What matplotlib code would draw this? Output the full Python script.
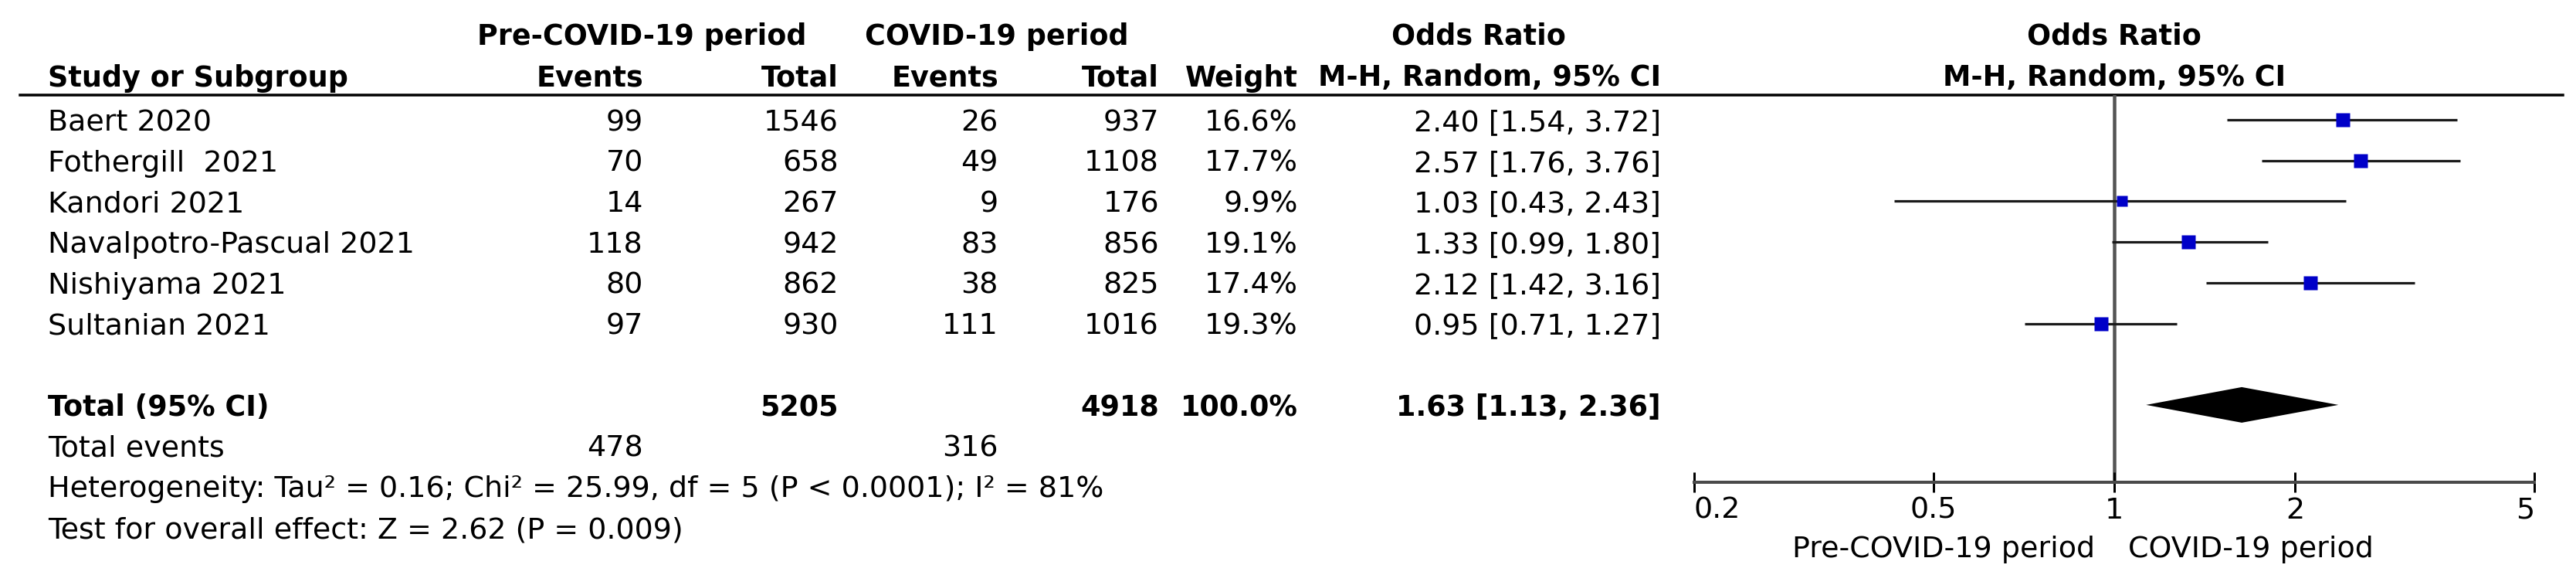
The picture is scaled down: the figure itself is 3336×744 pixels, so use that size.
import numpy as np
import matplotlib
matplotlib.use("Agg")
import matplotlib.pyplot as plt
import matplotlib.transforms as mtransforms

# ---------------- data ----------------
studies = ["Baert 2020", "Fothergill  2021", "Kandori 2021",
           "Navalpotro-Pascual 2021", "Nishiyama 2021", "Sultanian 2021"]
pre_events = [99, 70, 14, 118, 80, 97]
pre_total = [1546, 658, 267, 942, 862, 930]
covid_events = [26, 49, 9, 83, 38, 111]
covid_total = [937, 1108, 176, 856, 825, 1016]
weights = [16.6, 17.7, 9.9, 19.1, 17.4, 19.3]
or_est = [2.40, 2.57, 1.03, 1.33, 2.12, 0.95]
ci_low = [1.54, 1.76, 0.43, 0.99, 1.42, 0.71]
ci_high = [3.72, 3.76, 2.43, 1.80, 3.16, 1.27]

total_pre_events = 478
total_covid_events = 316
total_pre_n = 5205
total_covid_n = 4918
total_weight = 100.0
pooled_or = 1.63
pooled_low = 1.13
pooled_high = 2.36

heterogeneity_text = "Heterogeneity: Tau² = 0.16; Chi² = 25.99, df = 5 (P < 0.0001); I² = 81%"
overall_text = "Test for overall effect: Z = 2.62 (P = 0.009)"

x_ticks = [0.2, 0.5, 1, 2, 5]
x_tick_labels = ["0.2", "0.5", "1", "2", "5"]
left_label = "Pre-COVID-19 period"
right_label = "COVID-19 period"

# ---------------- layout ----------------
W, H, DPI = 3336, 744, 100
PT = 72.0 / DPI                      # points per pixel
ROW_PX, ROW0_PX = 52.7, 155.0


def prow(px):
    return (px - ROW0_PX) / ROW_PX


plt.rcParams["font.family"] = ["DejaVu Sans"]
FS = 27.4
FSB = 26.3

fig = plt.figure(figsize=(W / DPI, H / DPI), dpi=DPI)
fig.patch.set_facecolor("white")

ax_t = fig.add_axes([0, 0, 1, 1])
ax_t.set_xlim(0, W)
ax_t.set_ylim(prow(H), prow(0))
ax_t.axis("off")

# column positions (pixels)
X_STUDY = 62
X_PRE_EV, X_PRE_TOT = 833, 1086
X_COV_EV, X_COV_TOT = 1293, 1501
X_WT, X_OR = 1681, 2151

Y_H1, Y_H2, Y_LINE = prow(43), prow(97), prow(123)

va = "center_baseline"

# headers
ax_t.text(831, Y_H1, "Pre-COVID-19 period", ha="center", va=va, fontsize=FSB, fontweight="bold")
ax_t.text(1291, Y_H1, "COVID-19 period", ha="center", va=va, fontsize=FSB, fontweight="bold")
ax_t.text(1915, Y_H1, "Odds Ratio", ha="center", va=va, fontsize=FSB, fontweight="bold")
ax_t.text(X_STUDY, Y_H2, "Study or Subgroup", ha="left", va=va, fontsize=FSB, fontweight="bold")
for x, s in [(X_PRE_EV, "Events"), (X_PRE_TOT, "Total"), (X_COV_EV, "Events"),
             (X_COV_TOT, "Total"), (X_WT, "Weight"), (X_OR, "M-H, Random, 95% CI")]:
    ax_t.text(x, Y_H2, s, ha="right", va=va, fontsize=FSB, fontweight="bold")

ax_t.axhline(Y_LINE, xmin=26 / W, xmax=3319 / W, color="black", lw=3.5 * PT)

# study rows
for i, name in enumerate(studies):
    ax_t.text(X_STUDY, i, name, ha="left", va=va, fontsize=FS)
    ax_t.text(X_PRE_EV, i, f"{pre_events[i]}", ha="right", va=va, fontsize=FS)
    ax_t.text(X_PRE_TOT, i, f"{pre_total[i]}", ha="right", va=va, fontsize=FS)
    ax_t.text(X_COV_EV, i, f"{covid_events[i]}", ha="right", va=va, fontsize=FS)
    ax_t.text(X_COV_TOT, i, f"{covid_total[i]}", ha="right", va=va, fontsize=FS)
    ax_t.text(X_WT, i, f"{weights[i]:.1f}%", ha="right", va=va, fontsize=FS)
    ax_t.text(X_OR, i, f"{or_est[i]:.2f} [{ci_low[i]:.2f}, {ci_high[i]:.2f}]",
              ha="right", va=va, fontsize=FS)

n = len(studies)
r_tot = n + 1
ax_t.text(X_STUDY, r_tot, "Total (95% CI)", ha="left", va=va, fontsize=FSB, fontweight="bold")
ax_t.text(X_PRE_TOT, r_tot, f"{total_pre_n}", ha="right", va=va, fontsize=FSB, fontweight="bold")
ax_t.text(X_COV_TOT, r_tot, f"{total_covid_n}", ha="right", va=va, fontsize=FSB, fontweight="bold")
ax_t.text(X_WT, r_tot, f"{total_weight:.1f}%", ha="right", va=va, fontsize=FSB, fontweight="bold")
ax_t.text(X_OR, r_tot, f"{pooled_or:.2f} [{pooled_low:.2f}, {pooled_high:.2f}]",
          ha="right", va=va, fontsize=FSB, fontweight="bold")

ax_t.text(X_STUDY, r_tot + 1, "Total events", ha="left", va=va, fontsize=FS)
ax_t.text(X_PRE_EV, r_tot + 1, f"{total_pre_events}", ha="right", va=va, fontsize=FS)
ax_t.text(X_COV_EV, r_tot + 1, f"{total_covid_events}", ha="right", va=va, fontsize=FS)
ax_t.text(X_STUDY, r_tot + 2, heterogeneity_text, ha="left", va=va, fontsize=FS)
ax_t.text(X_STUDY, r_tot + 3, overall_text, ha="left", va=va, fontsize=FS)

# ---------------- forest plot ----------------
FX0, FX1 = 2194, 3282
FY_TOP, FY_BOT = 123, 624
ax_f = fig.add_axes([FX0 / W, 1 - FY_BOT / H, (FX1 - FX0) / W, (FY_BOT - FY_TOP) / H])
ax_f.set_xscale("log")
ax_f.set_xlim(x_ticks[0], x_ticks[-1])
ax_f.set_ylim(prow(FY_BOT), prow(FY_TOP))
ax_f.patch.set_visible(False)
for s in ["top", "left", "right"]:
    ax_f.spines[s].set_visible(False)
ax_f.spines["bottom"].set_color("#4a4a4a")
ax_f.spines["bottom"].set_linewidth(4 * PT)
ax_f.set_yticks([])
ax_f.xaxis.set_minor_locator(matplotlib.ticker.NullLocator())
ax_f.set_xticks(x_ticks)
ax_f.set_xticklabels(x_tick_labels)
ax_f.tick_params(axis="x", direction="inout", length=26 * PT, width=3 * PT,
                 colors="black", labelsize=FS, pad=4)
labs = ax_f.get_xticklabels()
labs[0].set_horizontalalignment("left")
labs[-1].set_horizontalalignment("right")

ax_f.axvline(1, color="#555555", lw=4.5 * PT, zorder=1)

rows = np.arange(n)
ax_f.hlines(rows, ci_low, ci_high, color="#1a1a1a", lw=3.2 * PT, zorder=2)
for i in range(n):
    side_px = 4.2 * np.sqrt(weights[i])
    ax_f.plot(or_est[i], rows[i], marker="s", ms=side_px * PT, color="#0000C8",
              mec="none", zorder=3, linestyle="none")

half_h = 23 / ROW_PX
ax_f.fill([pooled_low, pooled_or, pooled_high, pooled_or],
          [r_tot, r_tot - half_h, r_tot, r_tot + half_h],
          color="black", lw=0, zorder=3)

ax_f.annotate(left_label, xy=(1, 0), xycoords=("data", "axes fraction"),
              xytext=(-25 * PT, -83 * PT), textcoords="offset points",
              ha="right", va="center_baseline", fontsize=FS)
ax_f.annotate(right_label, xy=(1, 0), xycoords=("data", "axes fraction"),
              xytext=(18 * PT, -83 * PT), textcoords="offset points",
              ha="left", va="center_baseline", fontsize=FS)

blend = mtransforms.blended_transform_factory(ax_f.transData, ax_t.transData)
ax_t.text(1, Y_H1, "Odds Ratio", transform=blend, ha="center", va=va,
          fontsize=FSB, fontweight="bold")
ax_t.text(1, Y_H2, "M-H, Random, 95% CI", transform=blend, ha="center", va=va,
          fontsize=FSB, fontweight="bold")

fig.savefig("out.png", dpi=DPI, facecolor="white")
